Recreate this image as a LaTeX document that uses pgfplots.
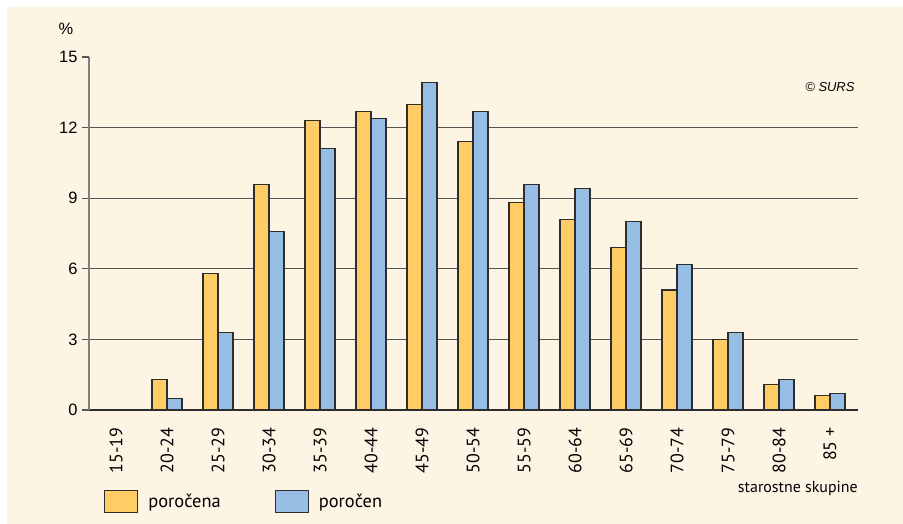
\documentclass[border=0pt]{standalone}
\usepackage{pgfplots}
\pgfplotsset{compat=1.18}
\usepackage{fontspec}
\setmainfont{PT Sans}
\newfontfamily\arial{Liberation Sans}
\definecolor{bg}{RGB}{253,244,228}
\definecolor{yel}{RGB}{255,204,102}
\definecolor{blu}{RGB}{150,189,228}
\definecolor{gridc}{RGB}{85,85,85}
\definecolor{edge}{RGB}{45,45,45}
\begin{document}
\begin{tikzpicture}[x=1bp,y=1bp]
\fill[white] (0,0) rectangle (903,524);
\fill[bg] (7,0) rectangle (903,517);
\begin{axis}[
  at={(89bp,114bp)}, anchor=south west,
  scale only axis, width=769bp, height=353bp,
  xmin=-0.53, xmax=14.55, ymin=0, ymax=15,
  axis x line=bottom, axis y line=left,
  x axis line style={-, draw=edge, line width=1.2bp},
  y axis line style={-, draw=gray, line width=1.2bp},
  ybar, bar width=15bp,
  ytick={0,3,6,9,12},
  extra y ticks={15},
  extra y tick style={grid=none},
  ymajorgrids,
  grid style={draw=gridc, line width=1.1bp},
  tick align=outside,
  major tick length=7bp,
  ytick style={draw=gridc, line width=1.1bp},
  xtick={0,...,14},
  xtick style={draw=none},
  xticklabels={15-19,20-24,25-29,30-34,35-39,40-44,45-49,50-54,55-59,60-64,65-69,70-74,75-79,80-84,85 +},
  xticklabel style={rotate=90, anchor=east, font=\fontsize{18}{20}\selectfont, xshift=-7bp},
  /pgf/number format/assume math mode=true,
  yticklabel style={font=\arial\fontsize{16.5}{18}\selectfont, xshift=-1bp},
  legend columns=2,
  legend image code/.code={\draw[#1,/tikz/.cd,yshift=0pt] (0bp,-11bp) rectangle (33bp,11bp);},
  legend style={at={(axis description cs:0.0195,-0.2266)}, anchor=north west,
    draw=none, fill=none, inner sep=0pt,
    font=\fontsize{18.5}{20}\selectfont,
    /tikz/every odd column/.append style={column sep=8bp},
    /tikz/every even column/.append style={column sep=52bp}},
  clip=false,
]
\addplot[ybar, bar shift=-7.5bp, fill=yel, draw=edge, line width=1.1bp]
  coordinates {(0,0) (1,1.3) (2,5.8) (3,9.6) (4,12.3) (5,12.7) (6,13.0) (7,11.4) (8,8.8) (9,8.1) (10,6.9) (11,5.1) (12,3.0) (13,1.1) (14,0.6)};
\addlegendentry{poročena}
\addplot[ybar, bar shift=7.5bp, fill=blu, draw=edge, line width=1.1bp]
  coordinates {(0,0) (1,0.5) (2,3.3) (3,7.6) (4,11.1) (5,12.4) (6,13.9) (7,12.7) (8,9.6) (9,9.4) (10,8.0) (11,6.2) (12,3.3) (13,1.3) (14,0.7)};
\addlegendentry{poročen}
\node[anchor=center, font=\arial\fontsize{16.5}{18}\selectfont] at (axis description cs:-0.03,1.081) {\%};
\node[anchor=east, font=\arial\itshape\fontsize{13}{15}\selectfont] at (axis description cs:1.0,0.915) {\textcopyright{} SURS};
\node[anchor=east, font=\fontsize{16}{18}\selectfont, inner sep=0pt] at (axis description cs:1.0,-0.221) {starostne skupine};
\end{axis}
\end{tikzpicture}
\end{document}
